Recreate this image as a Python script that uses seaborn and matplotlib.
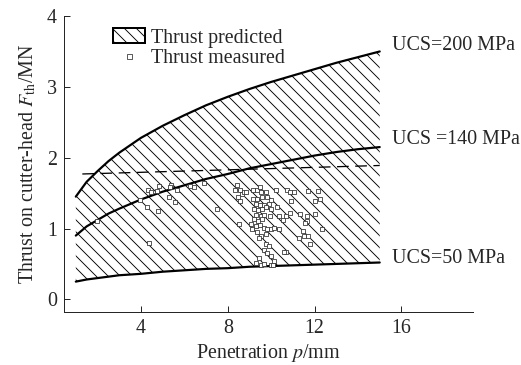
import matplotlib
matplotlib.use("Agg")
import matplotlib.pyplot as plt
import seaborn as sns
import pandas as pd
from matplotlib.patches import Patch
from matplotlib.lines import Line2D

# ---- data ----
pen = [1, 1.5, 2, 2.5, 3, 4, 5, 6, 7, 8, 9, 10, 11, 12, 13, 14, 15]
ucs200 = [1.45, 1.66, 1.81, 1.95, 2.07, 2.28, 2.45, 2.60, 2.74, 2.86, 2.97, 3.07, 3.16, 3.25, 3.34, 3.42, 3.50]
ucs140 = [0.90, 1.03, 1.12, 1.21, 1.28, 1.41, 1.52, 1.61, 1.70, 1.77, 1.85, 1.91, 1.97, 2.03, 2.08, 2.12, 2.15]
ucs50 = [0.25, 0.28, 0.30, 0.32, 0.34, 0.36, 0.39, 0.41, 0.43, 0.44, 0.46, 0.47, 0.48, 0.49, 0.50, 0.51, 0.52]

dash_x = [1.3, 15.0]
dash_y = [1.77, 1.89]

meas_x = [1.97, 3.94, 4.32, 4.46, 4.82, 4.74, 4.28, 4.78, 4.35, 5.28, 5.55, 5.38, 5.32, 5.66,
          6.28, 6.46, 6.89, 7.50,
          8.43, 8.35, 8.55, 8.66, 8.46, 8.58, 8.74, 8.86,
          9.17, 9.35, 9.48, 9.51, 9.74, 9.17, 9.35, 9.58, 9.81, 10.00, 9.28, 9.48, 9.69, 9.89,
          9.20, 9.38, 9.58, 9.74, 9.97, 10.28, 9.28, 9.51, 9.66, 9.94, 10.35, 9.20, 9.38, 9.58,
          10.55, 10.66, 8.50, 9.05, 9.28, 9.48, 9.66, 9.81, 10.00, 10.15, 10.35, 9.12, 9.35,
          9.54, 9.74, 9.43, 9.74, 9.89, 9.66, 9.81, 9.97, 9.43, 9.28, 9.51, 9.66, 10.00, 10.15,
          10.09,
          10.20, 10.71, 10.86, 11.05, 11.69, 12.15, 10.92, 12.04, 12.24, 10.86, 11.32, 11.63,
          12.00, 11.66, 11.54, 12.35, 11.48, 11.69, 11.27, 11.50, 11.78, 10.66, 10.61]
meas_y = [1.11, 1.40, 1.54, 1.51, 1.60, 1.53, 1.30, 1.25, 0.80, 1.44, 1.38, 1.62, 1.58, 1.54,
          1.60, 1.58, 1.64, 1.27,
          1.61, 1.54, 1.54, 1.49, 1.44, 1.39, 1.52, 1.52,
          1.54, 1.54, 1.59, 1.52, 1.52, 1.42, 1.41, 1.44, 1.44, 1.40, 1.35, 1.33, 1.33, 1.34,
          1.27, 1.26, 1.27, 1.30, 1.28, 1.30, 1.19, 1.17, 1.19, 1.17, 1.17, 1.13, 1.11, 1.13,
          1.12, 1.17, 1.06, 1.06, 1.03, 1.05, 1.01, 0.99, 1.00, 1.01, 0.99, 0.99, 0.95,
          0.90, 0.92, 0.86, 0.78, 0.76, 0.70, 0.65, 0.61, 0.58, 0.51, 0.49, 0.50, 0.49, 0.54,
          0.49,
          1.54, 1.54, 1.52, 1.52, 1.53, 1.53, 1.39, 1.39, 1.41, 1.22, 1.21, 1.17,
          1.21, 1.11, 1.08, 0.99, 0.97, 0.89, 0.86, 0.89, 0.78, 0.67, 0.67]

curve_labels = ["UCS=200 MPa", "UCS =140 MPa", "UCS=50 MPa"]
x_ticks = [4, 8, 12, 16]
y_ticks = [0, 1, 2, 3, 4]

# ---- style ----
sns.set_style("ticks")
plt.rcParams["font.family"] = ["Liberation Serif", "DejaVu Serif"]
plt.rcParams["mathtext.fontset"] = "stix"
plt.rcParams["hatch.linewidth"] = 0.9

FS = 20
DPI = 72
fig = plt.figure(figsize=(521 / DPI, 365 / DPI), dpi=DPI)
ax = fig.add_axes([0.123, 0.145, 0.785, 0.811])

df = pd.DataFrame({"p": pen, "u200": ucs200, "u140": ucs140, "u50": ucs50})

ax.fill_between(df["p"], df["u50"], df["u200"], facecolor="white", edgecolor="black",
                hatch="\\\\", linewidth=0)
for col in ["u200", "u140", "u50"]:
    sns.lineplot(data=df, x="p", y=col, ax=ax, color="black", linewidth=2.2)

sns.lineplot(x=dash_x, y=dash_y, ax=ax, color="black", linewidth=1.3,
             linestyle=(0, (9, 5)))

sns.scatterplot(x=meas_x, y=meas_y, ax=ax, marker="s", s=22, facecolor="white",
                edgecolor="#333333", linewidth=0.8, zorder=5)

# curve labels
ax.text(15.55, 3.59, curve_labels[0], fontsize=FS, va="center", ha="left")
ax.text(15.55, 2.25, curve_labels[1], fontsize=FS, va="center", ha="left")
ax.text(15.55, 0.58, curve_labels[2], fontsize=FS, va="center", ha="left")

ax.set_xlim(0.46, 19.3)
ax.set_ylim(-0.18, 4.0)
ax.set_xticks(x_ticks)
ax.set_yticks(y_ticks)
ax.tick_params(direction="in", length=6, width=1, labelsize=FS, pad=7)
sns.despine(ax=ax)
for s in ["left", "bottom"]:
    ax.spines[s].set_linewidth(1.0)

ax.set_xlabel("Penetration $p$/mm", fontsize=FS, labelpad=4)
ax.set_ylabel(r"Thrust on cutter-head $F_{\mathrm{th}}$/MN", fontsize=FS, labelpad=9)

handles = [Patch(facecolor="white", edgecolor="black", hatch="\\\\", linewidth=2),
           Line2D([], [], marker="s", linestyle="none", markerfacecolor="white",
                  markeredgecolor="#333333", markersize=5, markeredgewidth=0.8)]
ax.legend(handles, ["Thrust predicted", "Thrust measured"], loc="upper left",
          bbox_to_anchor=(0.09, 1.0), frameon=False, fontsize=FS,
          handlelength=1.6, handleheight=0.8, handletextpad=0.3,
          labelspacing=0.05, borderaxespad=0.2)

fig.savefig("out.png", dpi=DPI)
